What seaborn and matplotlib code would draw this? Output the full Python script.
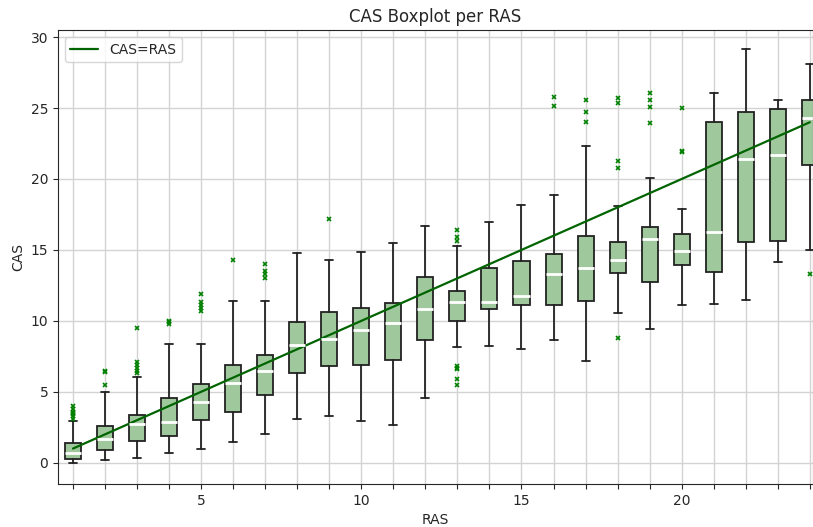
import numpy as np
import pandas as pd
import matplotlib
matplotlib.use("Agg")
import matplotlib.pyplot as plt
import seaborn as sns

ras = list(range(1, 25))
whislo = [0.0, 0.19, 0.33, 0.7, 0.99, 1.46, 2.04, 3.05, 3.26, 2.96, 2.68, 4.58,
          8.19, 8.26, 8.05, 8.62, 7.18, 10.54, 9.41, 11.13, 11.18, 11.46, 14.15, 14.98]
q1 = [0.28, 0.92, 1.53, 1.85, 3.03, 3.54, 4.77, 6.29, 6.79, 6.9, 7.23, 8.64,
      10.02, 10.82, 11.13, 11.13, 11.43, 13.4, 12.77, 13.94, 13.47, 15.56, 15.66, 21.0]
med = [0.65, 1.67, 2.75, 2.9, 4.27, 5.6, 6.5, 8.28, 8.71, 9.34, 9.84, 10.82,
       11.36, 11.34, 11.76, 13.31, 13.76, 14.3, 15.75, 14.95, 16.24, 21.43, 21.67, 24.27]
q3 = [1.36, 2.56, 3.33, 4.53, 5.56, 6.9, 7.58, 9.93, 10.59, 10.94, 11.27, 13.08,
      12.11, 13.76, 14.23, 14.74, 15.96, 15.54, 16.64, 16.1, 24.01, 24.7, 24.95, 25.54]
whishi = [2.95, 4.95, 6.03, 8.36, 8.4, 11.43, 11.4, 14.77, 14.3, 14.88, 15.5, 16.71,
          15.28, 17.0, 18.17, 18.9, 22.3, 18.1, 20.1, 17.9, 26.03, 29.15, 25.59, 28.1]
outliers = [
    [3.1, 3.3, 3.4, 3.5, 3.6, 3.8, 4.0],
    [5.5, 6.4, 6.5],
    [6.3, 6.5, 6.7, 6.9, 7.1, 9.53],
    [9.8, 9.9, 10.0],
    [10.7, 10.9, 11.1, 11.3, 11.9],
    [14.3],
    [13.0, 13.3, 13.5, 14.0],
    [],
    [17.18],
    [],
    [],
    [],
    [5.5, 5.9, 6.6, 6.7, 6.8, 15.6, 15.9, 16.4],
    [],
    [],
    [25.14, 25.75],
    [23.99, 24.7, 25.56],
    [8.78, 20.8, 21.3, 25.37, 25.68],
    [23.92, 25.09, 25.56, 26.03],
    [21.9, 22.0, 24.98],
    [],
    [],
    [],
    [13.31],
]

sns.set_style("ticks")

fig = plt.figure(figsize=(8.13, 5.27), dpi=100)
ax = fig.add_axes([0.0713, 0.0816, 0.9287, 0.8614])

stats = []
for i in range(len(ras)):
    stats.append({"whislo": whislo[i], "q1": q1[i], "med": med[i], "q3": q3[i],
                  "whishi": whishi[i], "fliers": outliers[i]})

ax.bxp(stats, positions=ras, widths=0.5, patch_artist=True,
       boxprops=dict(facecolor="#9fc99d", edgecolor="#222222", linewidth=1.3),
       medianprops=dict(color="white", linewidth=2),
       whiskerprops=dict(color="#222222", linewidth=1.3),
       capprops=dict(color="#222222", linewidth=1.3),
       flierprops=dict(marker="x", markeredgecolor="green", markersize=3.5,
                       markeredgewidth=1.2, linestyle="none"))

line_df = pd.DataFrame({"RAS": ras, "CAS": ras})
sns.lineplot(data=line_df, x="RAS", y="CAS", color="darkgreen", linewidth=1.6,
             label="CAS=RAS", ax=ax)

ax.set_xticks(ras)
ax.set_xticklabels([str(r) if r % 5 == 0 else "" for r in ras])
ax.set_yticks([0, 5, 10, 15, 20, 25, 30])
ax.set_xlim(0.53, 24.1)
ax.set_ylim(-1.5, 30.5)
ax.grid(True, color="#d3d3d3", linewidth=1)
ax.set_axisbelow(True)

ax.set_title("CAS Boxplot per RAS", fontsize=12)
ax.set_xlabel("RAS")
ax.set_ylabel("CAS")
ax.legend(loc="upper left")

fig.savefig("out.png", dpi=100)
